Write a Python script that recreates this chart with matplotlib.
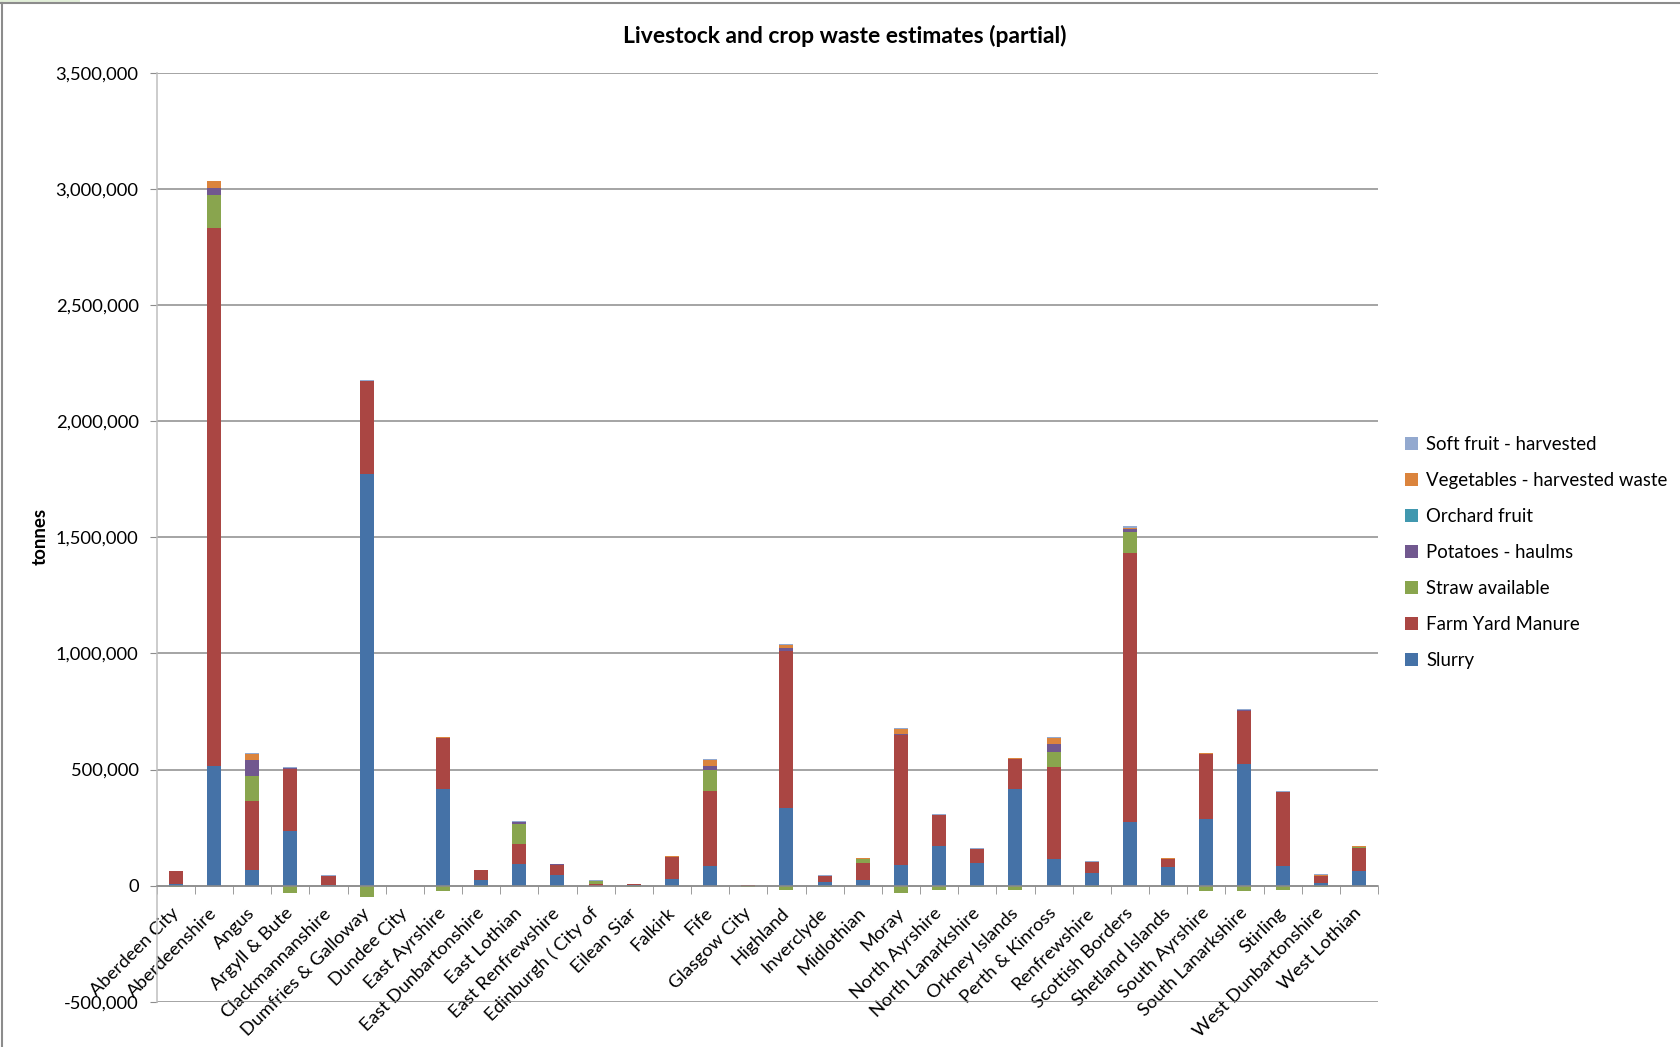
import matplotlib
matplotlib.use("Agg")
import matplotlib.pyplot as plt
import numpy as np
from matplotlib.lines import Line2D
from matplotlib.patches import Rectangle, Patch

plt.rcParams['font.family'] = ['Lato', 'DejaVu Sans']

regions = ["Aberdeen City", "Aberdeenshire", "Angus", "Argyll & Bute", "Clackmannanshire",
           "Dumfries & Galloway", "Dundee City", "East Ayrshire", "East Dunbartonshire",
           "East Lothian", "East Renfrewshire", "Edinburgh ( City of", "Eilean Siar", "Falkirk",
           "Fife", "Glasgow City", "Highland", "Inverclyde", "Midlothian", "Moray",
           "North Ayrshire", "North Lanarkshire", "Orkney Islands", "Perth & Kinross",
           "Renfrewshire", "Scottish Borders", "Shetland Islands", "South Ayrshire",
           "South Lanarkshire", "Stirling", "West Dunbartonshire", "West Lothian"]

slurry = [7000, 517000, 66000, 234000, 1000, 1772000, 0, 418000, 26000, 93000, 45000, 0,
          2000, 30000, 86000, 0, 335000, 17000, 26000, 89000, 171000, 96000, 418000, 113000,
          53000, 274000, 80000, 286000, 522000, 86000, 10000, 62000]
farm_yard_manure = [55000, 2317000, 299000, 269000, 39000, 400000, 0, 217000, 40000, 85000,
                    43000, 7000, 5000, 92000, 321000, 1000, 675000, 23000, 70000, 559000,
                    135000, 62000, 128000, 397000, 49000, 1160000, 33000, 282000, 231000,
                    316000, 33000, 102000]
straw_available = [-6000, 141000, 109000, -32000, 0, -49000, 0, -24000, -6000, 88000, -6000,
                   13000, -6000, 0, 92000, -6000, -17000, -6000, 17000, -30000, -17000, -6000,
                   -17000, 65000, -6000, 89000, -6000, -24000, -22000, -20000, -6000, 2000]
potatoes_haulms = [0, 31000, 68000, 4000, 3000, 2000, 0, 0, 0, 8000, 3000, 0, 1000, 0, 18000,
                   0, 13000, 0, 0, 7000, 0, 0, 0, 36000, 0, 11000, 0, 0, 4000, 0, 0, 0]
orchard_fruit = [0] * 32
vegetables_waste = [0, 27000, 26000, 0, 0, 0, 0, 4000, 2000, 0, 0, 0, 0, 4000, 25000, 0,
                    14000, 0, 5000, 19000, 0, 0, 4000, 24000, 0, 7000, 5000, 4000, 0, 0,
                    4000, 5000]
soft_fruit = [3000, 3000, 4000, 2000, 2000, 3000, 0, 1000, 1000, 3000, 1000, 3000, 0, 1000,
              4000, 0, 5000, 4000, 1000, 4000, 4000, 4000, 1000, 5000, 4000, 7000, 1000, 1000,
              2000, 4000, 1000, 1000]

series_names = ["Slurry", "Farm Yard Manure", "Straw available", "Potatoes - haulms",
                "Orchard fruit", "Vegetables - harvested waste", "Soft fruit - harvested"]
series_values = [slurry, farm_yard_manure, straw_available, potatoes_haulms,
                 orchard_fruit, vegetables_waste, soft_fruit]
series_colors = ["#4572A7", "#AA4643", "#89A54E", "#71588F", "#4198AF", "#DB843D", "#93A9CF"]

yticks = list(range(-500000, 3500001, 500000))
title = "Livestock and crop waste estimates (partial)"
ylabel = "tonnes"

W, H = 1680, 1047
fig = plt.figure(figsize=(W / 100, H / 100), dpi=100)
ax_l, ax_r, ax_t, ax_b = 156.7, 1378, 72.9, 1001.7
ax = fig.add_axes([ax_l / W, 1 - ax_b / H, (ax_r - ax_l) / W, (ax_b - ax_t) / H])

x = np.arange(len(regions))
pos_base = np.zeros(len(regions))
neg_base = np.zeros(len(regions))
for name, vals, col in zip(series_names, series_values, series_colors):
    v = np.array(vals, dtype=float)
    bottom = np.where(v >= 0, pos_base, neg_base)
    ax.bar(x, v, width=0.37, bottom=bottom, color=col, linewidth=0, zorder=3)
    pos_base = pos_base + np.where(v >= 0, v, 0)
    neg_base = neg_base + np.where(v < 0, v, 0)

ax.set_xlim(-0.5, len(regions) - 0.5)
ax.set_ylim(-500000, 3500000)
ax.set_yticks(yticks)
ax.set_yticklabels([f"{t:,}" for t in yticks])
ax.yaxis.grid(True, color="#8c8c8c", linewidth=1.1, zorder=0)
ax.set_axisbelow(True)

for s in ["top", "right"]:
    ax.spines[s].set_visible(False)
ax.spines["left"].set_color("#bfbfbf")
ax.spines["left"].set_linewidth(1.1)
ax.spines["bottom"].set_position(("data", 0))
ax.spines["bottom"].set_color("#8c8c8c")
ax.spines["bottom"].set_linewidth(1.1)
ax.spines["bottom"].set_zorder(4)

ax.tick_params(axis="y", direction="out", length=5, color="#8c8c8c", labelsize=13.2,
               pad=8, labelcolor="#000000")
ax.set_xticks(x)
ax.set_xticklabels(regions)
ax.set_xticks(np.arange(-0.5, len(regions)), minor=True)
ax.tick_params(axis="x", which="major", length=0, pad=18, labelsize=13.3)
ax.tick_params(axis="x", which="minor", direction="out", length=6, color="#8c8c8c")
for lab in ax.get_xticklabels():
    lab.set_rotation(45)
    lab.set_ha("right")
    lab.set_va("center")
    lab.set_rotation_mode("anchor")

fig.text(845 / W, 1 - 36 / H, title, ha="center", va="center", fontsize=16.5,
         fontweight="bold")
fig.text(40 / W, 1 - 536 / H, ylabel, ha="center", va="center", rotation=90,
         fontsize=13.5, fontweight="bold")

handles = [Patch(facecolor=c, edgecolor="none") for c in series_colors[::-1]]
fig.legend(handles, series_names[::-1], loc="upper left",
           bbox_to_anchor=(1405 / W, 1 - 436 / H), frameon=False, fontsize=13.4,
           handlelength=0.7, handleheight=0.7, handletextpad=0.45, labelspacing=1.02,
           borderpad=0, borderaxespad=0)

# chart frame
fig.add_artist(Line2D([1.5 / W, 1.5 / W], [0, 1 - 3 / H], transform=fig.transFigure,
                      color="#8c8c8c", linewidth=1.5))
fig.add_artist(Line2D([0, 1], [1 - 3 / H, 1 - 3 / H], transform=fig.transFigure,
                      color="#8c8c8c", linewidth=1.5))
fig.add_artist(Rectangle((0, 1 - 3 / H), 80 / W, 3 / H, transform=fig.transFigure,
                         color="#e2efd9", linewidth=0))

fig.savefig("out.png", dpi=100)
